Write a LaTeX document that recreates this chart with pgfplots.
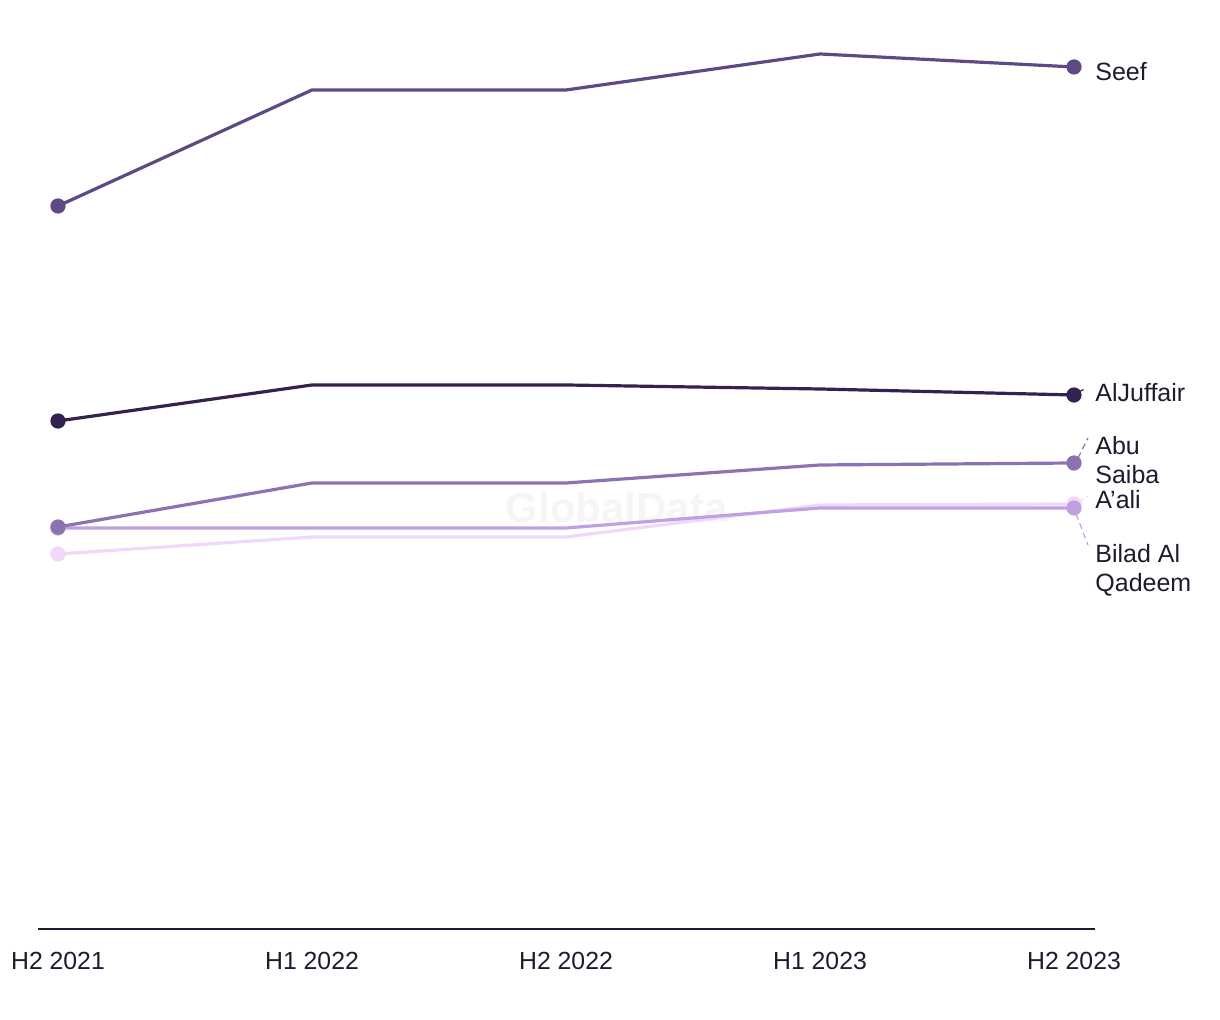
\documentclass[border=0pt]{standalone}
\usepackage{pgfplots}
\pgfplotsset{compat=1.18}
\usepackage{fontspec}
\setmainfont{Liberation Sans}
\definecolor{cSeef}{HTML}{5E4A82}
\definecolor{cJuf}{HTML}{33214F}
\definecolor{cAbu}{HTML}{8C72B0}
\definecolor{cAali}{HTML}{F0D8FA}
\definecolor{cBilad}{HTML}{BFA0E0}
\definecolor{txt}{HTML}{1C1C2E}
\begin{document}
\begin{tikzpicture}
\path[use as bounding box] (-19pt,-45.5pt) rectangle (591pt,464.5pt);
\begin{axis}[
  at={(0,0)}, anchor=south west,
  scale only axis, width=528.5pt, height=464.5pt,
  xmin=-0.0787, xmax=4.0827, ymin=0, ymax=929,
  axis y line=none, axis x line*=bottom,
  axis line style={-, draw=txt, line width=1pt},
  xtick={0,1,2,3,4},
  xticklabels={H2 2021,H1 2022,H2 2022,H1 2023,H2 2023},
  major tick length=0pt,
  xticklabel style={font=\fontsize{12.4}{14}\selectfont, text=txt, inner sep=0pt, anchor=north, yshift=-11.5pt},
  clip=false,
  every axis plot/.append style={line width=1.6pt, mark=*, mark size=3pt, mark repeat=4},
]
\node[text=black!4, font=\bfseries\fontsize{21}{24}\selectfont] at (axis cs:2.2,421) {GlobalData};
\addplot[cAali, mark options={fill=cAali, draw=cAali}] coordinates {(0,375) (1,392) (2,392) (3,424) (4,425)};
\addplot[cBilad, mark options={fill=cBilad, draw=cBilad}] coordinates {(0,401) (1,401) (2,401) (3,421) (4,421)};
\addplot[cAbu, mark options={fill=cAbu, draw=cAbu}] coordinates {(0,402) (1,446) (2,446) (3,464) (4,466)};
\addplot[cJuf, mark options={fill=cJuf, draw=cJuf}] coordinates {(0,508) (1,544) (2,544) (3,540) (4,534)};
\addplot[cSeef, mark options={fill=cSeef, draw=cSeef}] coordinates {(0,723) (1,839) (2,839) (3,875) (4,862)};
\draw[cJuf, densely dashed, line width=0.6pt] (axis cs:4.016,537) -- (axis cs:4.043,540);
\draw[cAbu, densely dashed, line width=0.6pt] (axis cs:4.016,471) -- (axis cs:4.055,491);
\draw[cAali, densely dashed, line width=0.6pt] (axis cs:4.016,427) -- (axis cs:4.055,433);
\draw[cBilad, densely dashed, line width=0.6pt] (axis cs:4.008,415) -- (axis cs:4.055,384);
\tikzset{lab/.style={anchor=west, inner sep=0pt, text=txt, align=left, font=\fontsize{12.5}{14.5}\selectfont}}
\node[lab] at (axis cs:4.0827,857) {Seef};
\node[lab] at (axis cs:4.0827,536) {AlJuffair};
\node[lab] at (axis cs:4.0827,469) {Abu\\Saiba};
\node[lab] at (axis cs:4.0827,429) {A'ali};
\node[lab] at (axis cs:4.0827,359) {Bilad Al\\Qadeem};
\end{axis}
\end{tikzpicture}
\end{document}
